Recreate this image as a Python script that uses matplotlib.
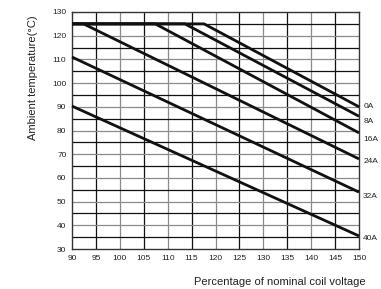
import numpy as np
import matplotlib.pyplot as plt

plt.rcParams['font.family'] = ['Liberation Sans', 'DejaVu Sans']

# # Derating curves: (voltage %, ambient temperature) break points per load current
curve_labels = ['0A', '8A', '16A', '24A', '32A', '40A']
curve_x = [
    [90, 117.6, 150],
    [90, 113.6, 150],
    [90, 107.4, 150],
    [90, 92.4, 150],
    [90, 150],
    [90, 150],
]
curve_y = [
    [125, 125, 90],
    [125, 125, 86],
    [125, 125, 79],
    [125, 125, 68],
    [111, 54],
    [90.3, 35.5],
]

x_ticks = list(range(90, 151, 5))
y_ticks = list(range(30, 131, 10))

fig = plt.figure(figsize=(3.81, 2.89), dpi=100)
ax = fig.add_axes([72/381, 1 - 249/289, 287/381, 237/289])

ax.set_xlim(90, 150)
ax.set_ylim(30, 130)

# # Grid: alternate dark and grey lines every 5 units
for v in range(95, 150, 5):
    ax.axvline(v, color='#111111' if v % 10 else '#8a8a8a', lw=0.9, zorder=1)
for v in range(35, 130, 5):
    ax.axhline(v, color='#111111' if v % 10 else '#8a8a8a', lw=0.9, zorder=1)

# # Curves and their labels at the right edge
label_offsets = [0, -3.5, -4.5, -1.5, -3, -1.5]  # points, to keep labels apart
for xs, ys, lab, off in zip(curve_x, curve_y, curve_labels, label_offsets):
    ax.plot(xs, ys, color='#111111', lw=2.0, solid_capstyle='butt', zorder=3, clip_on=False)
    ax.annotate(lab, xy=(xs[-1], ys[-1]), xytext=(3, off), textcoords='offset points',
                fontsize=6, color='#222222', va='center', ha='left', annotation_clip=False)

ax.set_xticks(x_ticks)
ax.set_yticks(y_ticks)
ax.tick_params(length=0, labelsize=6, colors='#222222', pad=4)
for s in ax.spines.values():
    s.set_color('#333333')
    s.set_linewidth(1.0)

fig.text(33/381, 1 - 78/289, 'Ambient temperature(\u00b0C)', rotation=90,
         ha='center', va='center', fontsize=8, color='#222222')
fig.text(280/381, 1 - 282/289, 'Percentage of nominal coil voltage',
         ha='center', va='center', fontsize=8, color='#222222')

fig.savefig('out.png', dpi=100)
